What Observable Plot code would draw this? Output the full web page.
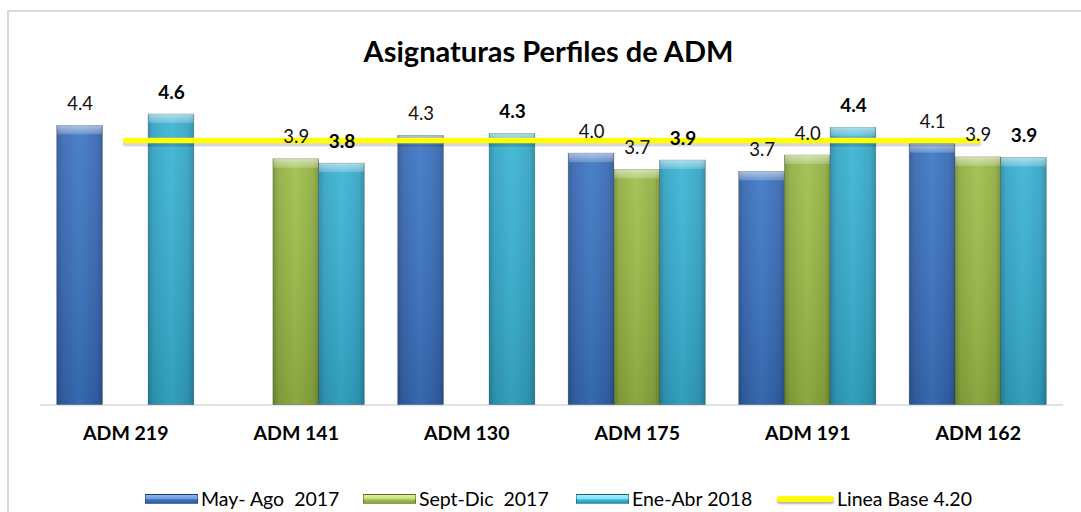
<!DOCTYPE html>
<html><head><meta charset="utf-8">
<script src="https://cdn.jsdelivr.net/npm/d3@7"></script>
<script src="https://cdn.jsdelivr.net/npm/@observablehq/plot@0.6"></script>
<style>
html,body{margin:0;padding:0;overflow:hidden;background:#fff;width:1081px;height:512px;}
body{font-family:Lato,"Open Sans",sans-serif;position:relative;color:#000;}
#frame{position:absolute;left:7px;top:10px;width:1100px;height:520px;border:2px solid #d9d9d9;box-sizing:border-box;}
#title{position:absolute;left:0;top:36px;width:1097px;text-align:center;font-size:29px;line-height:30px;font-weight:700;}
#chart{position:absolute;left:0;top:75px;}
#legend{position:absolute;top:488px;left:0;width:1081px;height:22px;font-size:19.5px;line-height:22px;}
.item{position:absolute;top:0;height:22px;display:flex;align-items:center;white-space:pre;}
.sw{width:53px;height:10px;margin-right:3px;box-sizing:border-box;border:1px solid rgba(0,0,0,0.35);}
.swl{width:57px;height:5.5px;margin-right:3px;background:#ffff00;border-radius:3px;box-shadow:0 2px 2px rgba(0,0,0,0.3);}
</style></head>
<body>
<svg width="0" height="0" style="position:absolute"><defs>
<linearGradient id="gMay" x1="0" y1="0" x2="1" y2="0">
<stop offset="0" stop-color="#2B5697"/><stop offset="0.12" stop-color="#3566B0"/><stop offset="0.5" stop-color="#3C77C6"/><stop offset="0.88" stop-color="#3566B0"/><stop offset="1" stop-color="#2B5697"/>
</linearGradient>
<linearGradient id="gSept" x1="0" y1="0" x2="1" y2="0">
<stop offset="0" stop-color="#768F33"/><stop offset="0.12" stop-color="#8EAD40"/><stop offset="0.5" stop-color="#9DBF49"/><stop offset="0.88" stop-color="#8EAD40"/><stop offset="1" stop-color="#768F33"/>
</linearGradient>
<linearGradient id="gEne" x1="0" y1="0" x2="1" y2="0">
<stop offset="0" stop-color="#2589A7"/><stop offset="0.12" stop-color="#31A3C4"/><stop offset="0.5" stop-color="#3AB4D6"/><stop offset="0.88" stop-color="#31A3C4"/><stop offset="1" stop-color="#2589A7"/>
</linearGradient>
<linearGradient id="shade" x1="0" y1="0" x2="0" y2="1">
<stop offset="0" stop-color="#fff" stop-opacity="0.08"/><stop offset="1" stop-color="#000" stop-opacity="0.12"/>
</linearGradient>
<linearGradient id="bevel" x1="0" y1="0" x2="0" y2="1">
<stop offset="0" stop-color="#fff" stop-opacity="0.55"/><stop offset="1" stop-color="#fff" stop-opacity="0.18"/>
</linearGradient>
</defs></svg>
<div id="frame"></div>
<div id="title">Asignaturas Perfiles de ADM</div>
<div id="chart"></div>
<div id="legend"></div>
<script>
// ---- data ----
const categories = ["ADM 219", "ADM 141", "ADM 130", "ADM 175", "ADM 191", "ADM 162"];
const seriesNames = ["May- Ago  2017", "Sept-Dic  2017", "Ene-Abr 2018"];
const mayAgo2017  = [4.43, null, 4.27, 3.99, 3.70, 4.14];
const septDic2017 = [null, 3.90, null, 3.73, 3.96, 3.93];
const eneAbr2018  = [4.61, 3.83, 4.30, 3.88, 4.40, 3.92];
const baseLabel = "Linea Base 4.20";
const baseValue = 4.20;

// ---- table built from the arrays ----
const slot = 0.268; // width of one bar in category units
const seriesValues = [mayAgo2017, septDic2017, eneAbr2018];
const rows = [];
seriesValues.forEach((vals, s) => vals.forEach((v, i) => {
  if (v != null) rows.push({category: categories[i], i, s, series: seriesNames[s], value: v,
    x1: i + (s - 1.5) * slot, x2: i + (s - 0.5) * slot, xc: i + (s - 1) * slot});
}));
const baseRows = categories.map((c, i) => ({category: c, i, value: baseValue}));
const catIdx = categories.map((c, i) => i);

const plot = Plot.plot({
  width: 1081, height: 374,
  marginLeft: 40, marginRight: 18, marginTop: 14.5, marginBottom: 44.5,
  style: {fontFamily: "Lato, 'Open Sans', sans-serif", background: "transparent", overflow: "visible"},
  x: {domain: [-0.5, categories.length - 0.5], axis: null},
  y: {domain: [0, 5], axis: null},
  color: {domain: seriesNames, range: ["url(#gMay)", "url(#gSept)", "url(#gEne)"]},
  marks: [
    Plot.ruleY([0], {stroke: "#d9d9d9", strokeWidth: 1.5}),
    Plot.rect(rows, {x1: "x1", x2: "x2", y1: 0, y2: "value", fill: "series", stroke: "rgba(0,0,0,0.3)", strokeWidth: 0.75, ariaLabel: "bars"}),
    Plot.rect(rows, {x1: "x1", x2: "x2", y1: 0, y2: "value", fill: "url(#shade)"}),
    Plot.rect(rows, {x1: "x1", x2: "x2", y1: "value", y2: "value", insetBottom: -9, insetLeft: 0.5, insetRight: 0.5, fill: "url(#bevel)"}),
    Plot.lineY(baseRows, {x: "i", y: "value", stroke: "#000", strokeOpacity: 0.15, strokeWidth: 6, strokeLinecap: "round", dy: 3}),
    Plot.lineY(baseRows, {x: "i", y: "value", stroke: "#ffff00", strokeWidth: 5.5, strokeLinecap: "round"}),
    Plot.text(rows.filter(d => d.s < 2), {x: "xc", y: "value", text: d => d.value.toFixed(1), dy: -16, lineAnchor: "bottom", fontSize: 18.5, fill: "#111"}),
    Plot.text(rows.filter(d => d.s === 2), {x: "xc", y: "value", text: d => d.value.toFixed(1), dy: -16, lineAnchor: "bottom", fontSize: 19, fontWeight: "bold", fill: "#000"}),
    Plot.axisX(catIdx, {tickSize: 0, tickPadding: 21, tickFormat: i => categories[i], fontSize: 19.5, fontWeight: "bold", fill: "#000"})
  ]
});
d3.select(plot).selectAll('g[aria-label="bars"]').style("filter", "drop-shadow(1.5px 1.5px 1.5px rgba(0,0,0,0.3))");
document.getElementById("chart").appendChild(plot);

// ---- legend ----
const legend = d3.select("#legend");
const swatchStyles = [
  "linear-gradient(to bottom,#8DB5EA 0%,#6E9CDD 45%,#3C72C0 60%,#2F5C9F 100%)",
  "linear-gradient(to bottom,#DDF09A 0%,#CBE37E 45%,#A3C24E 60%,#86A23A 100%)",
  "linear-gradient(to bottom,#9AF3FC 0%,#7FE6F6 45%,#3FB8D8 60%,#2A93B2 100%)"
];
const legendLefts = [145, 363, 576, 777];
seriesNames.forEach((name, s) => {
  const it = legend.append("div").attr("class", "item").style("left", legendLefts[s] + "px");
  it.append("div").attr("class", "sw").style("background", swatchStyles[s]);
  it.append("span").text(name);
});
const li = legend.append("div").attr("class", "item").style("left", legendLefts[3] + "px");
li.append("div").attr("class", "swl");
li.append("span").text(baseLabel);
</script>
</body></html>
